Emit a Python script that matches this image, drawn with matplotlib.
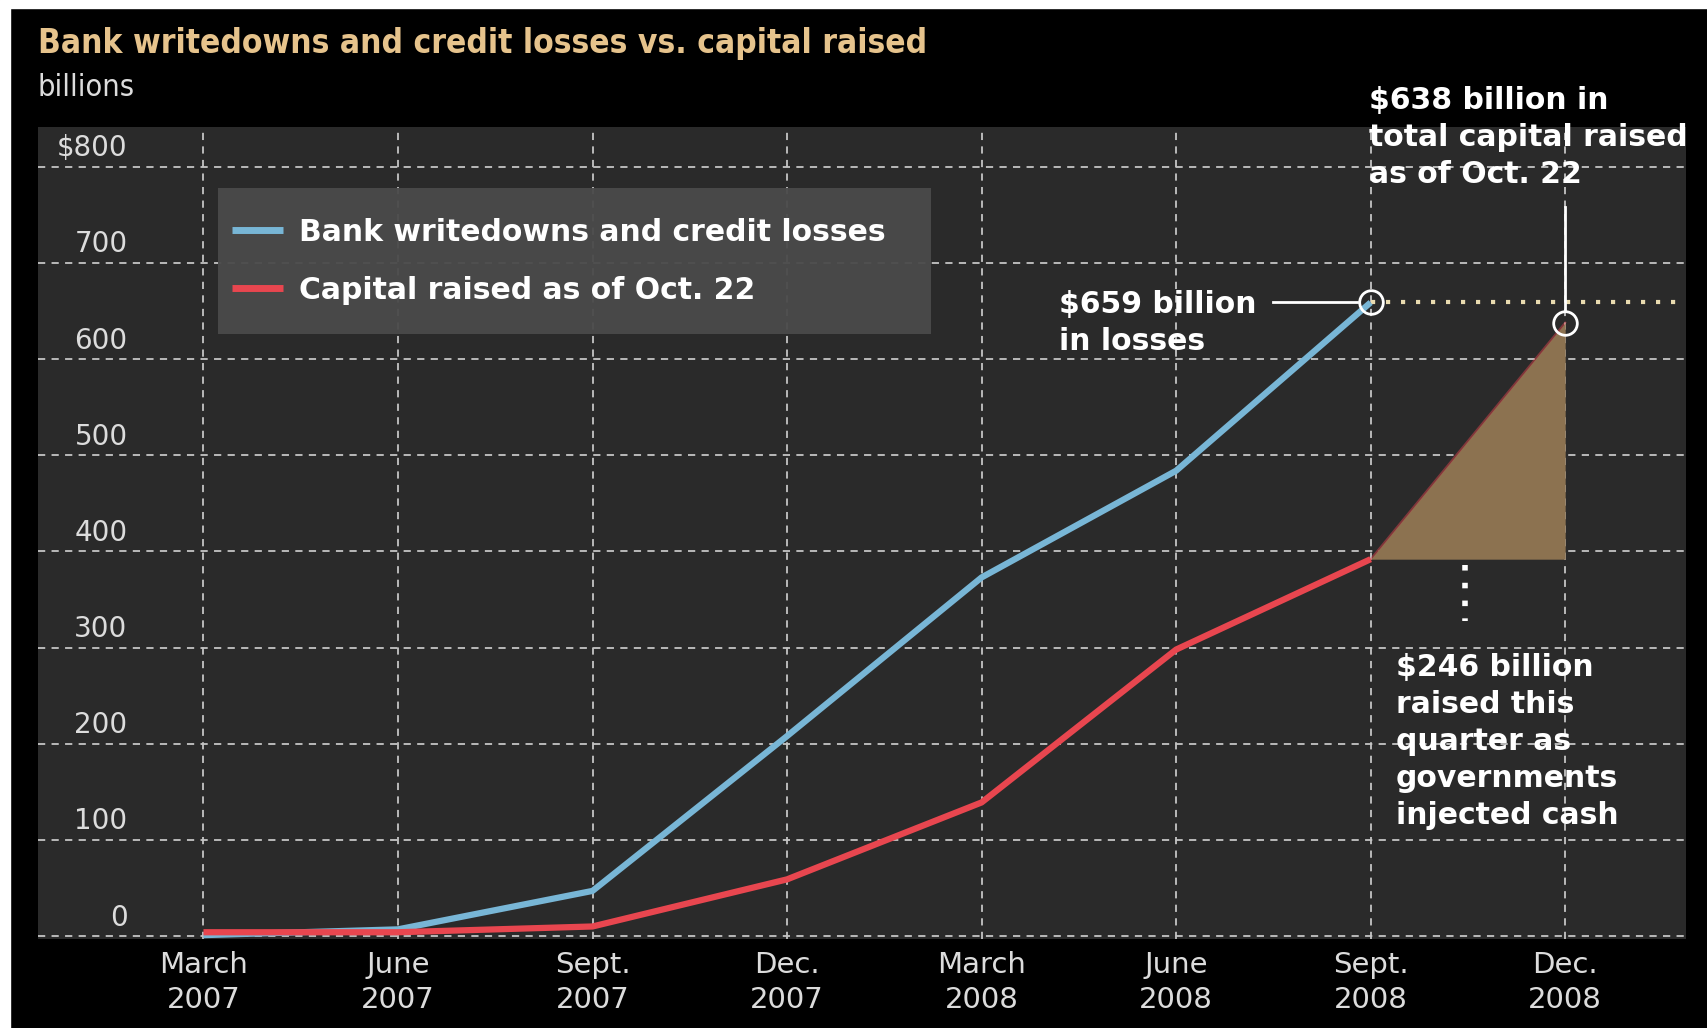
import matplotlib
matplotlib.use("Agg")
import matplotlib.pyplot as plt
from matplotlib.patches import Rectangle

# quarterly figures, $ billions
quarters = ["March\n2007", "June\n2007", "Sept.\n2007", "Dec.\n2007",
            "March\n2008", "June\n2008", "Sept.\n2008", "Dec.\n2008"]
writedowns = [1, 7, 47, 208, 373, 484, 659]
capital = [4, 4, 10, 59, 139, 298, 392]
capital_oct22 = 638          # total capital raised as of Oct. 22
raised_this_quarter = 246    # capital_oct22 - capital[-1]
yticks = [0, 100, 200, 300, 400, 500, 600, 700, 800]
ytick_labels = ["0", "100", "200", "300", "400", "500", "600", "700", "$800"]

BLUE = "#78b6d6"
RED = "#e8464f"
TAN = "#8c7250"
GOLD = "#e6c38c"
TXT = "#dcdcdc"

fig = plt.figure(figsize=(17.08, 10.28), dpi=100, facecolor="black")
ax = fig.add_axes([0.0222, 0.0866, 0.9648, 0.7894])
ax.set_facecolor("#2a2a2a")
for s in ax.spines.values():
    s.set_visible(False)

ax.set_xlim(-0.851, 7.62)
ax.set_ylim(-3, 841)

# grid
for v in yticks:
    ax.axhline(v, color="#c4c4c4", lw=1.3, dashes=(4, 3.5), zorder=1)
for i in range(len(quarters)):
    ax.axvline(i, color="#c4c4c4", lw=1.3, dashes=(4, 3.5), zorder=1)

# y labels sit just above their gridlines
for v, lab in zip(yticks, ytick_labels):
    ax.text(-0.39, v + 11, lab, ha="right", va="baseline", color=TXT,
            fontsize=20)
ax.set_yticks([])

ax.set_xticks(range(len(quarters)))
ax.set_xticklabels(quarters, color=TXT, fontsize=21, linespacing=1.28)
ax.tick_params(axis="x", length=0, pad=9)

# gap between losses and capital for the current quarter
last = len(capital) - 1
ax.fill_between([last, last + 1], [capital[-1], capital[-1]],
                [capital[-1], capital_oct22], color=TAN, lw=0, zorder=2)
ax.plot([last, last + 1], [capital[-1], capital_oct22], color=RED, lw=1.5,
        alpha=0.45, zorder=2)

x = list(range(len(writedowns)))
ax.plot(x, writedowns, color=BLUE, lw=4.5, solid_capstyle="butt", zorder=4,
        label="Bank writedowns and credit losses")
ax.plot(x, capital, color=RED, lw=4.5, solid_capstyle="butt", zorder=5,
        label="Capital raised as of Oct. 22")

# dotted level of total losses
ax.plot([last, 7.62], [writedowns[-1], writedowns[-1]], color="#eadcb0",
        lw=3, dashes=(1, 2.6), zorder=3)

# circles
ax.plot([last], [writedowns[-1]], "o", ms=17, mfc="none", mec="white",
        mew=2, zorder=6)
ax.plot([last + 1], [capital_oct22], "o", ms=17, mfc="none", mec="white",
        mew=2, zorder=6)

ann = dict(color="white", fontsize=21.5, fontweight="bold", linespacing=1.34,
           zorder=7)
ax.text(4.40, 672, "$659 billion\nin losses", ha="left", va="top", **ann)
ax.plot([5.50, last - 0.07], [659, 659], color="white", lw=2, zorder=6)

ax.text(5.99, 884, "$638 billion in\ntotal capital raised\nas of Oct. 22",
        ha="left", va="top", clip_on=False, **ann)
ax.plot([last + 1, last + 1], [758, capital_oct22 + 13], color="white",
        lw=2, zorder=6)

ax.plot([6.485, 6.485], [386, 328], color="white", lw=4, dashes=(1, 2.2),
        zorder=6)
ax.text(6.13, 294, "$%d billion\nraised this\nquarter as\ngovernments\n"
        "injected cash" % raised_this_quarter, ha="left", va="top", **ann)

# legend on a flat grey panel
ax.add_patch(Rectangle((0.109, 0.745), 0.433, 0.181, transform=ax.transAxes,
                       facecolor="#4a4a4a", edgecolor="none", alpha=0.95,
                       zorder=8))
leg = ax.legend(loc="upper left", bbox_to_anchor=(0.1176, 0.889),
                prop=dict(weight="bold", size=21.5), frameon=False,
                handlelength=1.72, handletextpad=0.55, borderpad=0,
                labelspacing=0.98, borderaxespad=0)
leg.set_zorder(9)
for t in leg.get_texts():
    t.set_color("white")
for h in leg.get_lines():
    h.set_linewidth(5)

fig.text(0.0222, 0.9576, "Bank writedowns and credit losses vs. capital raised",
         color=GOLD, fontsize=24, fontweight="bold", fontstretch="condensed",
         va="center", ha="left")
fig.text(0.0222, 0.915, "billions", color=TXT, fontsize=22,
         fontstretch="condensed", va="center", ha="left")

# white strip on the left and top edges
fig.patches.append(Rectangle((0, 0), 10 / 1708, 1, transform=fig.transFigure,
                             color="white", zorder=10))
fig.patches.append(Rectangle((0, 1 - 8 / 1028), 1, 8 / 1028,
                             transform=fig.transFigure, color="white",
                             zorder=10))

fig.savefig("out.png", dpi=100, facecolor="black")
